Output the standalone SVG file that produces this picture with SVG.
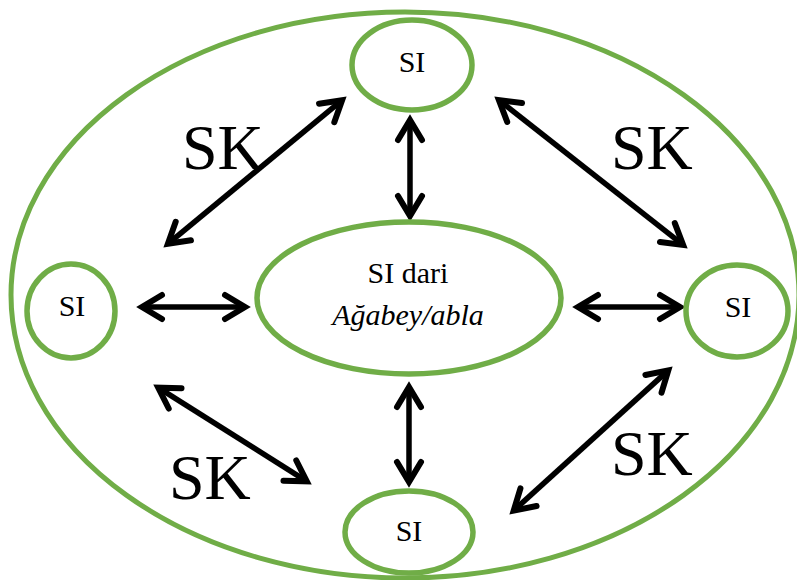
<svg xmlns="http://www.w3.org/2000/svg" width="797" height="580" viewBox="0 0 797 580">
<style>
.node ellipse{fill:#fff;stroke:#70AD47;stroke-width:5.5}
.outer{fill:none;stroke:#70AD47;stroke-width:5}
.t{font-family:"Liberation Serif","Times New Roman",serif;fill:#000;text-anchor:middle;font-size:30px}
.it{font-style:italic}
.sk{font-family:"Liberation Serif","Times New Roman",serif;fill:#000;font-size:64px}
.conn line{stroke:#000;stroke-width:5.5;marker-start:url(#ah);marker-end:url(#ah)}
</style>
<defs>
<marker id="ah" markerUnits="userSpaceOnUse" markerWidth="60" markerHeight="60" viewBox="-30 -30 60 60" refX="0" refY="0" orient="auto-start-reverse">
<path d="M-20,-12 L0,0 L-20,12" fill="none" stroke="#000" stroke-width="6" stroke-linecap="round" stroke-linejoin="miter"/>
</marker>
</defs>
<rect width="797" height="580" fill="#fff"/>
<ellipse id="outer" class="outer" cx="405" cy="295" rx="394" ry="283"/>
<g id="connectors" class="conn">
<line x1="410" y1="120" x2="410" y2="216"/>
<line x1="409" y1="387" x2="409" y2="482"/>
<line x1="142" y1="307" x2="245" y2="307"/>
<line x1="578" y1="307" x2="680" y2="307"/>
<line x1="167.9" y1="243.8" x2="342.1" y2="100.2"/>
<line x1="498.9" y1="100.1" x2="683.1" y2="244.9"/>
<line x1="158.2" y1="387.7" x2="306.8" y2="481.3"/>
<line x1="513.7" y1="510.6" x2="668.3" y2="370.4"/>
</g>
<g id="center" class="node">
<ellipse cx="409" cy="298" rx="152" ry="76"/>
<text class="t" x="408" y="283">SI dari</text>
<text class="t it" x="408" y="325">Ağabey/abla</text>
</g>
<g id="si-top" class="node">
<ellipse cx="412" cy="65" rx="60" ry="45"/>
<text class="t" x="412" y="72">SI</text>
</g>
<g id="si-left" class="node">
<ellipse cx="71" cy="311" rx="44" ry="47"/>
<text class="t" x="72" y="316">SI</text>
</g>
<g id="si-right" class="node">
<ellipse cx="737" cy="311" rx="51" ry="46"/>
<text class="t" x="738" y="317">SI</text>
</g>
<g id="si-bottom" class="node">
<ellipse cx="409" cy="532" rx="64" ry="41"/>
<text class="t" x="409" y="541">SI</text>
</g>
<g id="labels">
<text class="sk" x="182" y="169">SK</text>
<text class="sk" x="611" y="169">SK</text>
<text class="sk" x="169" y="499">SK</text>
<text class="sk" x="611" y="475">SK</text>
</g>
</svg>
